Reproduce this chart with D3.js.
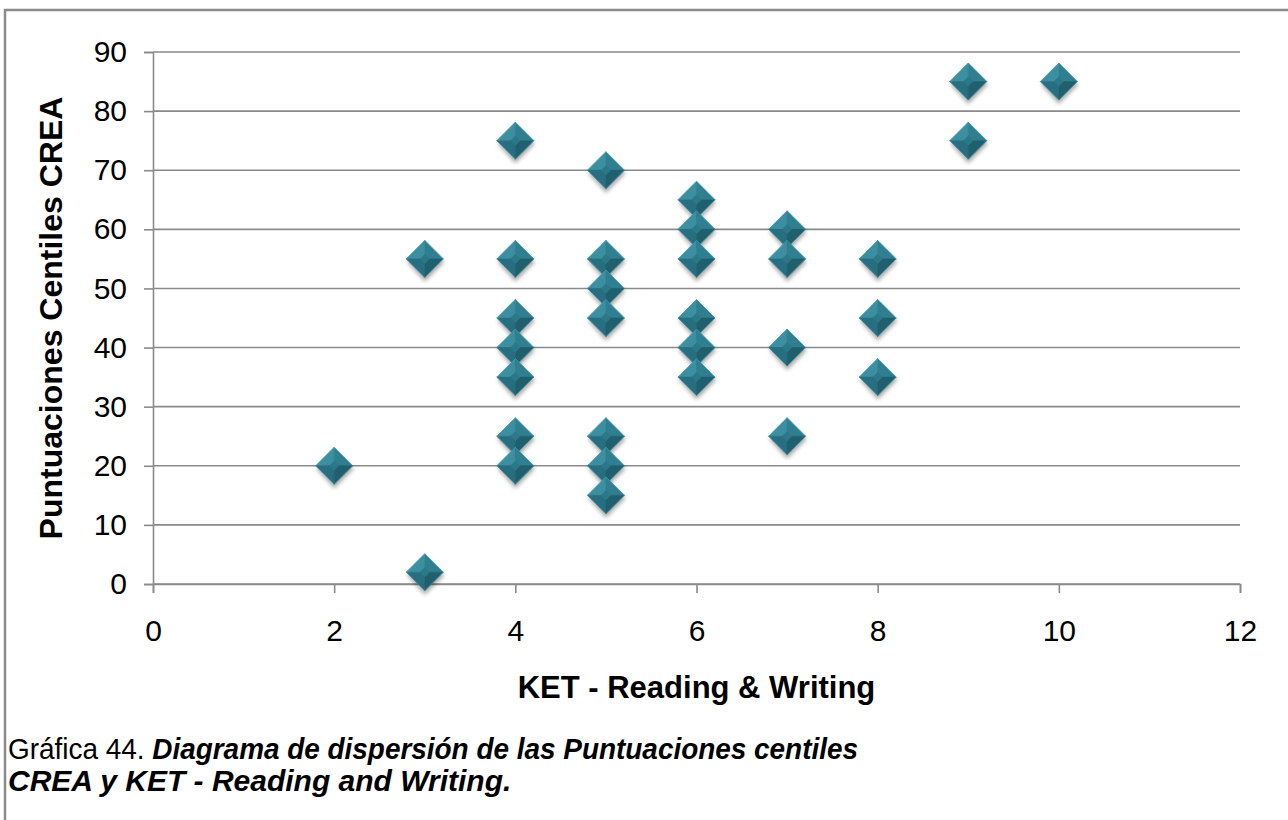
<!DOCTYPE html>
<html>
<head>
<meta charset="utf-8">
<script src="https://cdn.jsdelivr.net/npm/d3@7"></script>
<style>
  html, body { margin: 0; padding: 0; background: #fff; }
  svg { display: block; font-family: "Liberation Sans", Arial, sans-serif; }
</style>
</head>
<body>
<div id="chart"></div>
<script>
// KET Reading & Writing score vs CREA centile
var ketScores = [2, 3, 3, 4, 4, 4, 4, 4, 4, 4, 5, 5, 5, 5, 5, 5, 5, 6, 6, 6, 6, 6, 6, 7, 7, 7, 7, 8, 8, 8, 9, 9, 10];
var creaCentiles = [20, 55, 2, 75, 55, 45, 40, 35, 25, 20, 70, 55, 50, 45, 25, 20, 15, 65, 60, 55, 45, 40, 35, 60, 55, 40, 25, 55, 45, 35, 85, 75, 85];
var xTicks = [0, 2, 4, 6, 8, 10, 12];
var yTicks = [0, 10, 20, 30, 40, 50, 60, 70, 80, 90];

window.onload = (function () {
    var W = 1288, H = 820;
    var svg = d3.select('#chart').append('svg')
        .attr('width', W).attr('height', H);

    // outer frame (runs off right and bottom edges)
    svg.append('rect')
        .attr('x', 5).attr('y', 10)
        .attr('width', W + 20).attr('height', H + 20)
        .attr('fill', '#fff').attr('stroke', '#8a8a8a').attr('stroke-width', 2.5);

    var x = d3.scaleLinear().domain([0, 12]).range([153, 1240]);
    var y = d3.scaleLinear().domain([0, 90]).range([584, 52]);

    // gridlines
    svg.append('g').selectAll('line').data(yTicks).enter().append('line')
        .attr('x1', x(0)).attr('x2', x(12))
        .attr('y1', function (d) { return y(d); })
        .attr('y2', function (d) { return y(d); })
        .attr('stroke', '#8a8a8a').attr('stroke-width', 1.6);

    var yAxis = svg.append('g')
        .attr('transform', 'translate(' + x(0) + ',0)')
        .call(d3.axisLeft(y).tickValues(yTicks).tickSize(9).tickPadding(17));
    var xAxis = svg.append('g')
        .attr('transform', 'translate(0,' + y(0) + ')')
        .call(d3.axisBottom(x).tickValues(xTicks).tickSize(9).tickPadding(27));

    [yAxis, xAxis].forEach(function (ax) {
        ax.select('.domain').attr('stroke', '#8a8a8a').attr('stroke-width', 1.6);
        ax.selectAll('.tick line').attr('stroke', '#8a8a8a').attr('stroke-width', 1.6);
        ax.selectAll('.tick text')
            .attr('fill', '#000')
            .style('font-family', '"Liberation Sans", Arial, sans-serif')
            .style('font-size', '30px');
    });

    // axis titles
    svg.append('text')
        .attr('transform', 'translate(62,318) rotate(-90)')
        .attr('text-anchor', 'middle')
        .style('font-size', '32px').style('font-weight', 'bold')
        .text('Puntuaciones Centiles CREA');
    svg.append('text')
        .attr('x', (x(0) + x(12)) / 2).attr('y', 698)
        .attr('text-anchor', 'middle')
        .style('font-size', '31px').style('font-weight', 'bold')
        .text('KET - Reading & Writing');

    // markers: bevelled diamonds
    var defs = svg.append('defs');
    defs.append('filter').attr('id', 'shadow')
        .attr('x', '-50%').attr('y', '-50%').attr('width', '200%').attr('height', '200%')
        .append('feGaussianBlur').attr('stdDeviation', 2.2);

    var points = ketScores.map(function (d, i) { return [d, creaCentiles[i]]; });
    var r = 18.5, c = 5;
    var facets = [
        { pts: [[0, -r], [-r, 0], [0, 0]], fill: '#3b8fa0' },
        { pts: [[0, -r], [r, 0], [0, 0]], fill: '#2f7f90' },
        { pts: [[-r, 0], [0, r], [0, 0]], fill: '#276f80' },
        { pts: [[r, 0], [0, r], [0, 0]], fill: '#1f5f6e' }
    ];
    var marks = svg.append('g').selectAll('g').data(points).enter().append('g')
        .attr('transform', function (d) { return 'translate(' + x(d[0]) + ',' + y(d[1]) + ')'; });

    marks.append('path')
        .attr('d', 'M0,' + (-r + 3) + 'L' + (r + 1) + ',3L0,' + (r + 4) + 'L' + (-r + 1) + ',3Z')
        .attr('fill', '#000').attr('opacity', 0.35)
        .attr('filter', 'url(#shadow)');

    facets.forEach(function (f) {
        marks.append('path')
            .attr('d', 'M' + f.pts.map(function (p) { return p.join(','); }).join('L') + 'Z')
            .attr('fill', f.fill).attr('stroke', f.fill).attr('stroke-width', 0.5);
    });
    // central flat face
    marks.append('path')
        .attr('d', 'M0,' + (-c) + 'L' + c + ',0L0,' + c + 'L' + (-c) + ',0Z')
        .attr('fill', '#2a7888');
    marks.append('path')
        .attr('d', 'M0,' + (-r) + 'L' + r + ',0L0,' + r + 'L' + (-r) + ',0Z')
        .attr('fill', 'none').attr('stroke', '#4aa6b6').attr('stroke-width', 0.8).attr('opacity', 0.7);

    // caption
    var cap = svg.append('g').style('font-size', '30px');
    var line1 = cap.append('text').attr('x', 8).attr('y', 759);
    line1.append('tspan').text('Gráfica 44. ');
    line1.append('tspan').style('font-weight', 'bold').style('font-style', 'italic')
        .text('Diagrama de dispersión de las Puntuaciones centiles');
    // fit first line to the text block width
    var natural = line1.node().getComputedTextLength();
    var extra = (850 - natural) / 8;
    if (extra > 0) line1.attr('word-spacing', extra);
    else line1.attr('textLength', 850).attr('lengthAdjust', 'spacingAndGlyphs');

    cap.append('text').attr('x', 8).attr('y', 791)
        .style('font-weight', 'bold').style('font-style', 'italic')
        .text('CREA y KET - Reading and Writing.');
}())
</script>
</body>
</html>
